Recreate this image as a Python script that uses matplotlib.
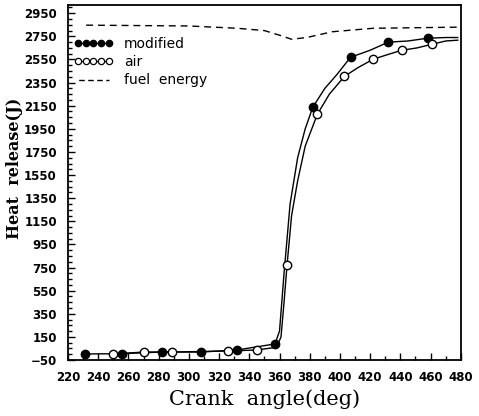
import matplotlib
matplotlib.use("Agg")
import matplotlib.pyplot as plt
from matplotlib.ticker import MultipleLocator

# Curve points
mod_x = [231, 256, 282, 308, 332, 357, 360, 363, 367, 372, 377, 382, 390, 398, 407, 420, 432, 445, 458, 470, 478]
mod_y = [2, 5, 19, 19, 37, 89, 200, 700, 1300, 1700, 1950, 2136, 2300, 2420, 2569, 2630, 2700, 2710, 2734, 2740, 2740]
mod_mark_x = [231, 256, 282, 308, 332, 357, 382, 407, 432, 458]
mod_mark_y = [2, 5, 19, 19, 37, 89, 2136, 2569, 2700, 2734]

air_x = [250, 270, 289, 326, 345, 358, 361, 363, 365, 368, 372, 377, 385, 393, 403, 412, 422, 431, 441, 451, 461, 470, 478]
air_y = [2, 19, 19, 28, 37, 60, 150, 450, 774, 1200, 1500, 1800, 2075, 2250, 2404, 2480, 2552, 2590, 2630, 2650, 2682, 2710, 2717]
air_mark_x = [250, 270, 289, 326, 345, 365, 385, 403, 422, 441, 461]
air_mark_y = [2, 19, 19, 28, 37, 774, 2075, 2404, 2552, 2630, 2682]

fuel_x = [232, 300, 332, 350, 360, 368, 378, 395, 422, 480]
fuel_y = [2847, 2840, 2820, 2800, 2760, 2725, 2740, 2790, 2820, 2830]

xticks = list(range(220, 481, 20))
yticks = list(range(-50, 2951, 200))

fig = plt.figure(figsize=(4.79, 4.16), dpi=100)
ax = fig.add_axes([0.142, 0.1346, 0.820, 0.853])

dash = (0, (5, 3.5))
ax.plot(mod_x, mod_y, color="black", lw=1.0)
ax.plot(mod_mark_x, mod_mark_y, "o", color="black", ms=6, mfc="black")
ax.plot(air_x, air_y, color="black", lw=1.0)
ax.plot(air_mark_x, air_mark_y, "o", color="black", ms=6, mfc="white", mew=1.0)
ax.plot(fuel_x, fuel_y, color="black", lw=1.0, ls=dash)

# legend proxies
h1, = ax.plot([], [], "-o", color="black", ms=4.5, mfc="black", lw=1.0)
h2, = ax.plot([], [], "-o", color="black", ms=4.5, mfc="white", lw=0.9, mew=0.9)
h3, = ax.plot([], [], color="black", lw=1.0, ls=(6, (4, 2.5)))
ax.legend([h1, h2, h3], ["modified", "air", "fuel  energy"], loc="upper left",
          bbox_to_anchor=(0.015, 0.91), frameon=False, numpoints=5,
          handlelength=2.8, handletextpad=0.8, labelspacing=0.3,
          borderpad=0, borderaxespad=0, prop={"family": "DejaVu Sans", "size": 10})

ax.set_xlim(220, 480)
ax.set_ylim(-50, 3020)
ax.set_xticks(xticks)
ax.set_yticks(yticks)
ax.xaxis.set_minor_locator(MultipleLocator(10))
ax.yaxis.set_minor_locator(MultipleLocator(50))
ax.tick_params(which="both", direction="in", top=False, right=False, width=1.0)
ax.tick_params(which="major", length=5, pad=8)
ax.tick_params(which="minor", length=3)
tick_fam = ["Liberation Sans Narrow", "DejaVu Sans"]
for lab in ax.get_xticklabels() + ax.get_yticklabels():
    lab.set_fontweight("bold")
    lab.set_fontsize(8.5)
    lab.set_family(tick_fam)
for s in ax.spines.values():
    s.set_linewidth(1.3)

ax.set_xlabel("Crank  angle(deg)", family="DejaVu Serif", fontsize=15, labelpad=4)
ax.set_ylabel("Heat  release(J)", family="DejaVu Serif", fontsize=11.5, fontweight="bold")
ax.yaxis.set_label_coords(-0.115, 0.54)

fig.savefig("out.png", dpi=100)
